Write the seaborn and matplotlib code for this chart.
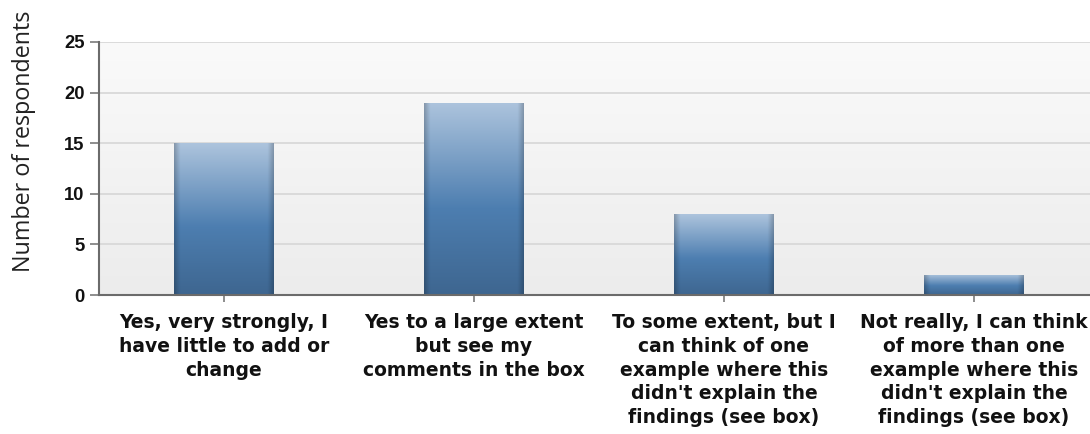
import numpy as np
import pandas as pd
import matplotlib
matplotlib.use("Agg")
import matplotlib.pyplot as plt
import seaborn as sns
from matplotlib.colors import LinearSegmentedColormap

categories = [
    "Yes, very strongly, I\nhave little to add or\nchange",
    "Yes to a large extent\nbut see my\ncomments in the box",
    "To some extent, but I\ncan think of one\nexample where this\ndidn't explain the\nfindings (see box)",
    "Not really, I can think\nof more than one\nexample where this\ndidn't explain the\nfindings (see box)",
]
respondents = [15, 19, 8, 2]
y_ticks = [0, 5, 10, 15, 20, 25]

df = pd.DataFrame({"answer": categories, "count": respondents})

sns.set_theme(style="white")
plt.rcParams["font.family"] = ["Liberation Sans", "DejaVu Sans"]

W, H = 1090, 434
fig = plt.figure(figsize=(W / 100, H / 100), dpi=100)
# plotting area: left spine at x=99, categories 250px wide, runs past the right edge
ax = fig.add_axes([99 / W, 1 - 295 / H, 1000 / W, 253 / H])

sns.barplot(data=df, x="answer", y="count", ax=ax, width=0.4,
            color="#4e7fb0", edgecolor="none", zorder=3)

n = len(categories)
ax.set_ylim(0, 25)
ax.set_xlim(-0.5, n - 0.5)

# soft vertical gradient in the plotting area (lighter at the top)
bg = LinearSegmentedColormap.from_list("bg", ["#fafafa", "#ececec"])
ax.imshow(np.linspace(0, 1, 256).reshape(-1, 1), cmap=bg, aspect="auto",
          extent=[-0.5, n - 0.5, 0, 25], origin="upper", zorder=0)

# shaded fill for each bar, clipped to the bar rectangle
bar_cmap = LinearSegmentedColormap.from_list(
    "bar", [(0.0, "#adc4dd"), (0.55, "#4d7eb0"), (1.0, "#3e6690")])
edge_cmap = LinearSegmentedColormap.from_list(
    "edge", [(0.0, (0, 0, 0, 0.22)), (0.06, (0, 0, 0, 0.0)),
             (0.94, (0, 0, 0, 0.0)), (1.0, (0, 0, 0, 0.22))])
grad = np.linspace(0, 1, 256).reshape(-1, 1)
for patch in list(ax.patches):
    x0, y0 = patch.get_x(), patch.get_y()
    w, h = patch.get_width(), patch.get_height()
    im = ax.imshow(grad, cmap=bar_cmap, aspect="auto",
                   extent=[x0, x0 + w, y0, y0 + h], origin="upper", zorder=3.5)
    im.set_clip_path(patch)
    edge = ax.imshow(np.linspace(0, 1, 128).reshape(1, -1), cmap=edge_cmap,
                     aspect="auto", extent=[x0, x0 + w, y0, y0 + h], zorder=3.6)
    edge.set_clip_path(patch)

ax.set_yticks(y_ticks)
ax.set_yticklabels([str(t) for t in y_ticks])
ax.yaxis.grid(True, color="#d6d6d6", linewidth=1.2, zorder=1)
ax.set_axisbelow(True)

for side in ["top", "right"]:
    ax.spines[side].set_visible(False)
for side in ["left", "bottom"]:
    ax.spines[side].set_color("#6b6b6b")
    ax.spines[side].set_linewidth(1.5)
    ax.spines[side].set_zorder(5)

ax.tick_params(axis="y", length=6.5, width=1.2, color="#7a7a7a", left=True,
               labelsize=13.2, pad=4)
ax.tick_params(axis="x", length=5, width=1.2, color="#7a7a7a", bottom=True,
               labelsize=13.5, pad=8)
for lbl in ax.get_yticklabels():
    lbl.set_fontweight("bold")
    lbl.set_family(["Liberation Sans Narrow", "Liberation Sans", "DejaVu Sans"])
    lbl.set_color("#111111")
for lbl in ax.get_xticklabels():
    lbl.set_fontweight("bold")
    lbl.set_family(["DejaVu Sans"])
    lbl.set_color("#111111")
    lbl.set_linespacing(1.32)

ax.set_xlabel("")
ax.set_ylabel("")
fig.text(0.011, 1 - 141 / H, "Number of respondents", rotation=90, ha="left",
         va="center", fontsize=16.8, family=["Open Sans", "DejaVu Sans"],
         color="#222222")

fig.savefig("out.png", dpi=100, facecolor="white")
